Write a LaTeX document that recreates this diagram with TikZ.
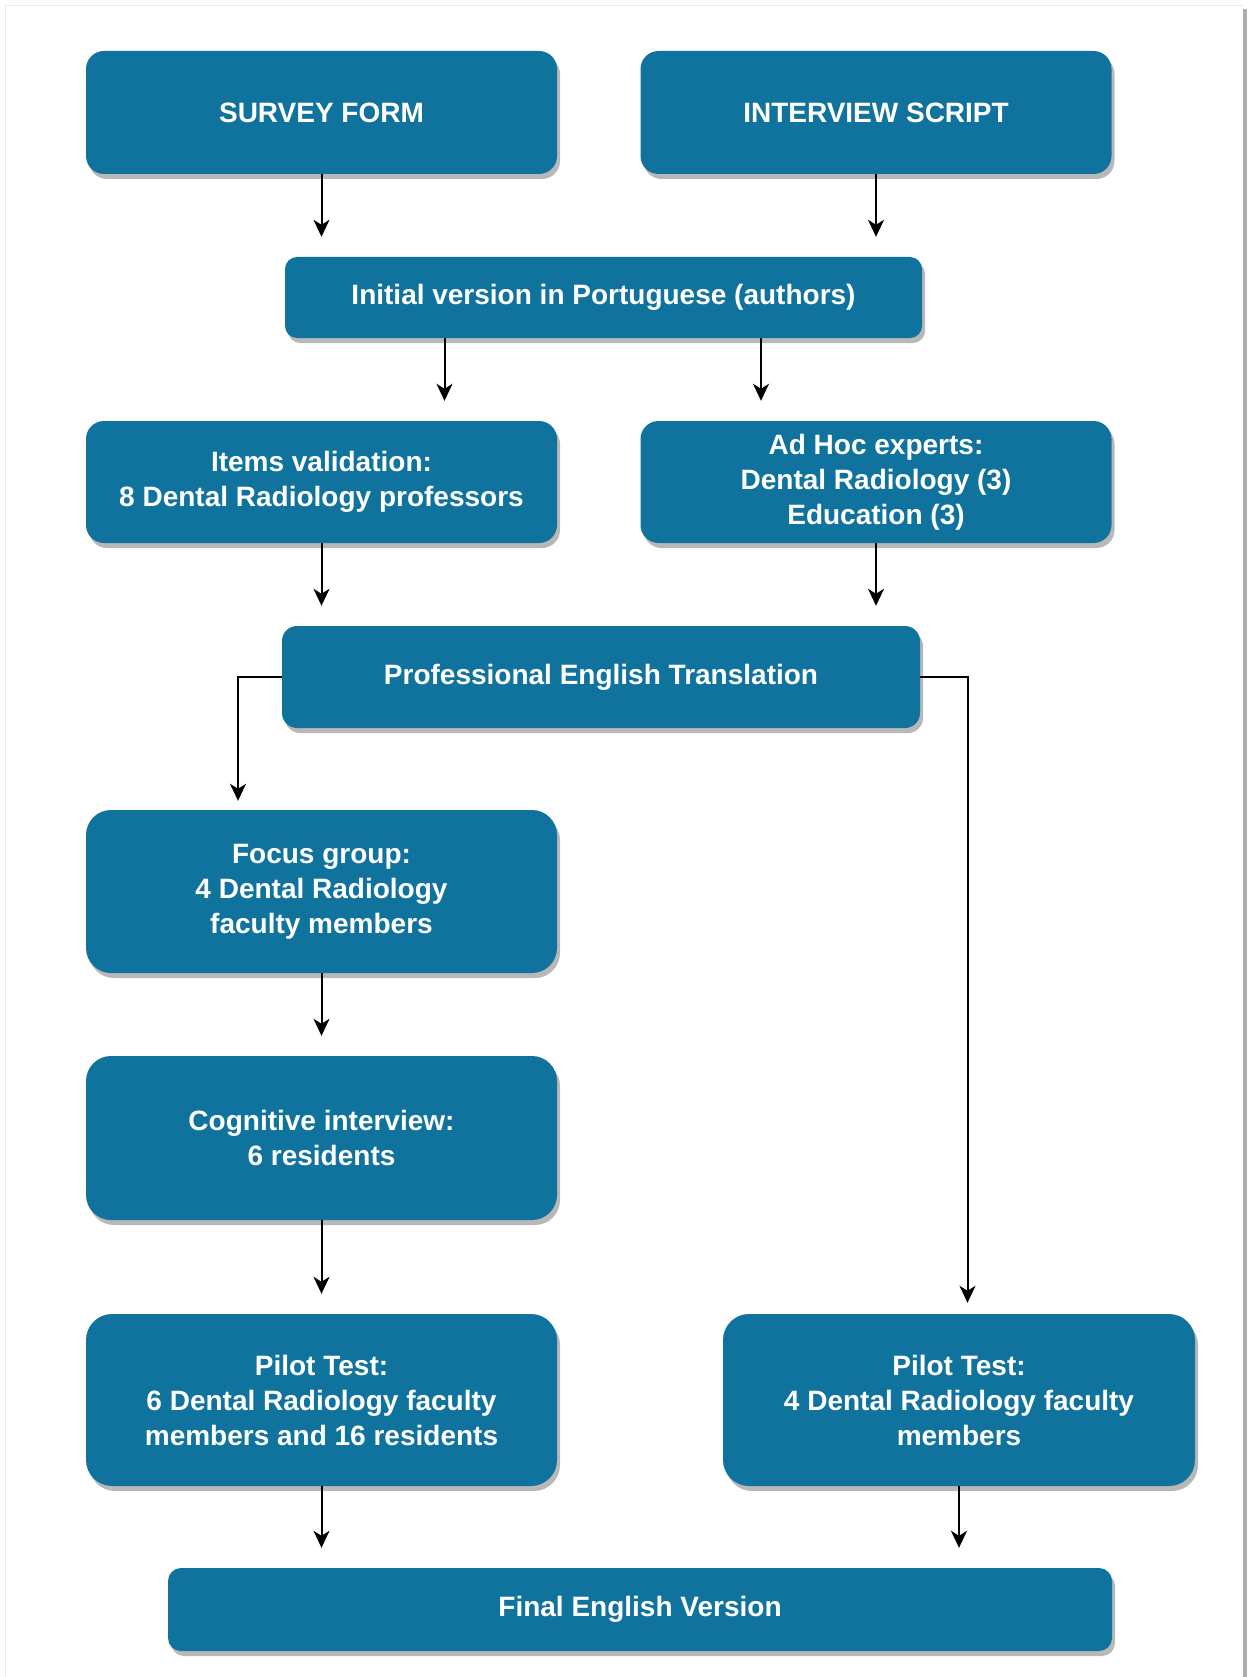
\documentclass[tikz,border=0pt]{standalone}
\usepackage{fontspec}
\setmainfont{Liberation Sans}
\usetikzlibrary{arrows.meta, shadows}
\definecolor{boxblue}{HTML}{10739E}
\tikzstyle{box} = [rectangle, rounded corners=18pt, minimum width=471pt, minimum height=123pt, inner sep=0pt, align=center, fill=boxblue, text=white, font=\fontsize{28}{35}\selectfont\bfseries, drop shadow={shadow xshift=3pt, shadow yshift=-5pt, fill=black!28, opacity=1}]
\tikzstyle{arrow} = [line width=2pt, -{Stealth[length=17pt, width=16pt, inset=5pt]}, shorten >=20pt]

\begin{document}
\begin{tikzpicture}[node distance=200pt]
            \useasboundingbox (0,0) rectangle (1247pt,-1677pt);
            % page edges
            \draw [black!8, line width=1pt] (5pt,-1677pt) -- (5pt,-6pt) -- (1243pt,-6pt);
            \fill [black!32] (1243pt,-9pt) rectangle (1247pt,-1677pt);

            \node (survey) [box] at (321.5pt,-112.5pt) {SURVEY FORM};
            \node (interview) [box, right of=survey, xshift=354.5pt] {INTERVIEW SCRIPT};
            \node (initial) [box, minimum width=637pt, minimum height=81pt, rounded corners=12pt, below of=survey, xshift=282pt, yshift=15pt] {Initial version in Portuguese (authors)};
            \node (items) [box, minimum height=122pt, below of=initial, xshift=-282pt, yshift=15.5pt] {Items validation:\\8 Dental Radiology professors};
            \node (adhoc) [box, minimum height=122pt, right of=items, xshift=354.5pt] {Ad Hoc experts:\\Dental Radiology (3)\\Education (3)};
            \node (prof) [box, minimum width=638pt, minimum height=102pt, rounded corners=15pt, below of=items, xshift=279.5pt, yshift=5pt] {Professional English Translation};
            \node (focus) [box, minimum height=163pt, rounded corners=25pt, below of=prof, xshift=-279.5pt, yshift=-14.5pt] {Focus group:\\4 Dental Radiology\\faculty members};
            \node (cognitive) [box, minimum height=164pt, rounded corners=25pt, below of=focus, yshift=-46.5pt] {Cognitive interview:\\6 residents};
            \node (pilotL) [box, minimum height=172pt, rounded corners=26pt, below of=cognitive, yshift=-62pt] {Pilot Test:\\6 Dental Radiology faculty\\members and 16 residents};
            \node (pilotR) [box, minimum width=472pt, minimum height=172pt, rounded corners=26pt, right of=pilotL, xshift=437.5pt] {Pilot Test:\\4 Dental Radiology faculty\\members};
            \node (final) [box, minimum width=944pt, minimum height=83pt, rounded corners=13pt, below of=pilotL, xshift=318.5pt, yshift=-9.5pt] {Final English Version};

            \draw [arrow] (survey) -- (survey |- initial.north);
            \draw [arrow] (interview) -- (interview |- initial.north);
            \draw [arrow] ([xshift=-159pt]initial.south) -- ([xshift=-159pt]initial.south |- items.north);
            \draw [arrow] ([xshift=157.5pt]initial.south) -- ([xshift=157.5pt]initial.south |- adhoc.north);
            \draw [arrow] (items) -- (items |- prof.north);
            \draw [arrow] (adhoc) -- (adhoc |- prof.north);
            \draw [arrow, shorten >=9pt] (prof.west) -| ([xshift=-83.5pt]focus.north);
            \draw [arrow, shorten >=11pt] (prof.east) -| ([xshift=8.5pt]pilotR.north);
            \draw [arrow] (focus) -- (focus |- cognitive.north);
            \draw [arrow] (cognitive) -- (cognitive |- pilotL.north);
            \draw [arrow] (pilotL) -- (pilotL |- final.north);
            \draw [arrow] (pilotR) -- (pilotR |- final.north);
\end{tikzpicture}
\end{document}
